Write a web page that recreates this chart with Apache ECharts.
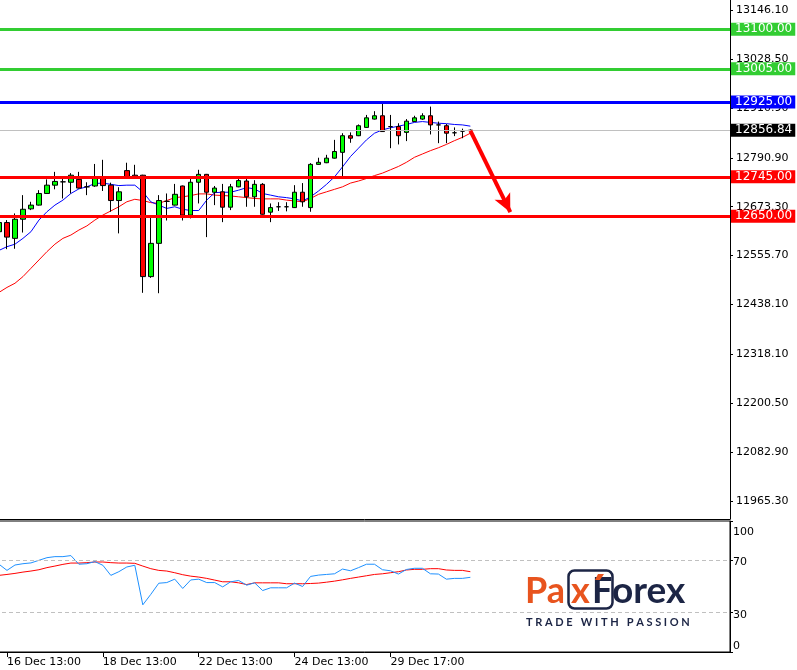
<!DOCTYPE html>
<html>
<head>
<meta charset="utf-8">
<script src="https://cdn.jsdelivr.net/npm/echarts@6/dist/echarts.min.js"></script>
<style>
html,body{margin:0;padding:0;background:#fff;}
#chart{width:797px;height:670px;}
</style>
</head>
<body>
<div id="chart"></div>
<script>
// ---- categories (H4 bars) ----
const categories = [
 '16 Dec 09:00','16 Dec 13:00','16 Dec 17:00','16 Dec 21:00','17 Dec 01:00','17 Dec 05:00','17 Dec 09:00','17 Dec 13:00','17 Dec 17:00','17 Dec 21:00',
 '18 Dec 01:00','18 Dec 05:00','18 Dec 09:00','18 Dec 13:00','18 Dec 17:00','18 Dec 21:00','21 Dec 01:00','21 Dec 05:00','21 Dec 09:00','21 Dec 13:00',
 '21 Dec 17:00','21 Dec 21:00','22 Dec 01:00','22 Dec 05:00','22 Dec 09:00','22 Dec 13:00','22 Dec 17:00','22 Dec 21:00','23 Dec 01:00','23 Dec 05:00',
 '23 Dec 09:00','23 Dec 13:00','23 Dec 17:00','23 Dec 21:00','24 Dec 01:00','24 Dec 05:00','24 Dec 09:00','24 Dec 13:00','24 Dec 17:00','28 Dec 01:00',
 '28 Dec 05:00','28 Dec 09:00','28 Dec 13:00','28 Dec 17:00','28 Dec 21:00','29 Dec 01:00','29 Dec 05:00','29 Dec 09:00','29 Dec 13:00','29 Dec 17:00',
 '29 Dec 21:00','30 Dec 01:00','30 Dec 05:00','30 Dec 09:00','30 Dec 13:00','30 Dec 17:00','30 Dec 21:00','31 Dec 01:00','31 Dec 05:00','31 Dec 09:00'
];
const shownTimeLabels = ['16 Dec 13:00','18 Dec 13:00','22 Dec 13:00','24 Dec 13:00','29 Dec 17:00'];
const emptySlots = 32;

// ---- OHLC: [open, close, low, high] ----
const ohlc = [
 [12613,12635,12600,12645],[12635,12600,12571,12641],[12597,12643,12572,12657],[12643,12667,12611,12701],[12668,12677,12665,12685],
 [12677,12705,12676,12713],[12705,12725,12704,12739],[12725,12734,12715,12757],[12733,12733,12693,12743],[12732,12749,12705,12754],
 [12739,12718,12717,12757],[12721,12721,12701,12732],[12723,12742,12721,12776],[12742,12724,12711,12786],[12725,12688,12661,12731],
 [12688,12709,12609,12720],[12760,12745,12744,12779],[12749,12745,12744,12774],[12749,12505,12466,12750],[12505,12585,12502,12649],
 [12585,12688,12465,12701],[12686,12686,12640,12705],[12677,12703,12676,12728],[12723,12653,12640,12724],[12653,12732,12645,12742],
 [12732,12751,12681,12762],[12751,12708,12600,12752],[12708,12718,12677,12723],[12709,12672,12636,12728],[12672,12721,12665,12728],
 [12721,12736,12720,12742],[12735,12697,12673,12742],[12697,12727,12673,12737],[12727,12655,12654,12730],[12660,12671,12636,12681],
 [12673,12673,12663,12684],[12673,12673,12662,12684],[12671,12708,12670,12725],[12708,12685,12673,12730],[12671,12775,12661,12778],
 [12775,12780,12774,12791],[12779,12790,12778,12798],[12790,12806,12789,12834],[12804,12844,12747,12850],[12844,12838,12827,12852],
 [12844,12868,12843,12871],[12864,12887,12863,12894],[12884,12892,12883,12903],[12892,12854,12853,12922],[12866,12866,12814,12894],
 [12866,12844,12823,12874],[12852,12879,12831,12884],[12878,12887,12877,12892],[12884,12892,12882,12898],[12892,12870,12847,12914],
 [12870,12870,12826,12878],[12868,12850,12826,12872],[12851,12851,12843,12864],[12855,12855,12838,12861],[12857,12857,12855,12859]
];

// ---- moving averages ----
const maFast = [12568,12577,12583,12597,12613,12641,12661,12677,12689,12705,12716,12721,12729,12730,12727,12724,12725,12725,12709,12685,
 12677,12669,12673,12667,12664,12664,12689,12707,12708,12708,12713,12719,12716,12705,12701,12697,12695,12692,12687,12697,
 12711,12727,12745,12769,12794,12814,12834,12850,12858,12863,12867,12871,12876,12878,12876,12874,12873,12871,12870,12867];
const maSlow = [12467,12479,12489,12505,12525,12545,12565,12583,12597,12605,12617,12627,12641,12653,12663,12673,12685,12691,12688,12683,
 12681,12688,12695,12697,12700,12704,12704,12701,12700,12699,12697,12695,12693,12692,12692,12692,12689,12687,12685,12693,
 12703,12709,12715,12721,12730,12735,12741,12748,12754,12762,12770,12780,12792,12800,12808,12815,12823,12832,12840,12850];

// ---- oscillator ----
const oscMain = [67,62.3,66.4,67.4,68,70,72,72.8,72.8,73.6,67,67.4,69,66.2,58.5,61.3,64.9,66.2,36,44,
 52.5,53,55.6,48.5,55,55.6,53,53,49.7,53.6,54.6,51,52.8,46.9,49,49,49,52.6,50,57.7,
 58.7,59.2,59.7,63.3,62,64.4,67,67,62.8,62,59.5,63,63.9,63.9,59.7,59.5,55.6,56.2,56.2,57];
const oscSignal = [58.5,59.2,60,61,61.8,62.8,64.4,65.6,66.9,67.9,67.9,68.2,68.7,68.7,68.2,67.9,67.9,67.7,65.6,63.6,
 62.3,61.8,60.5,59,57.9,57.2,56.2,54.9,53.6,53.6,52.8,51.5,52.8,52.8,52.8,52.8,52.1,52.1,52.1,52.3,
 52.6,53.3,54.1,55.1,56.2,57.2,58.2,59.2,59.7,60.5,61.3,62.6,63.1,63.1,63.6,63.6,62.6,62.3,62.3,61.3];
const oscLevels = [70, 30];
const oscTicks = [0, 30, 70, 100];

// ---- price axis ticks & levels ----
const priceTicks = [11965.30,12082.90,12200.50,12318.10,12438.10,12555.70,12673.30,12790.90,12910.90,13028.50,13146.10];
const priceMin = 11921.8, priceMax = 13170.5;
const levelValues = [13100, 13005, 12925, 12745, 12650];
const levelColors = ['#32CD32','#32CD32','#0000FF','#FF0000','#FF0000'];
const currentPrice = 12856.84;
const arrowFrom = [59, 12856];
const arrowTo = [64, 12660];

const FONT = 'DejaVu Sans';
const axisCats = categories.concat(Array.from({length: emptySlots}, (_, i) => 'next' + i));
const showLabel = (idx, val) => shownTimeLabels.indexOf(val) >= 0;

const boxLabel = (text, bg) => ({show: true, position: 'end', distance: 1, formatter: text, color: '#fff',
  backgroundColor: bg, fontFamily: FONT, fontSize: 12, padding: [1, 3, 0, 4], lineHeight: 12});
const levelLines = levelValues.map((v, i) => ({
  yAxis: v,
  lineStyle: {color: levelColors[i], width: 3, type: 'solid'},
  label: boxLabel(v.toFixed(2), levelColors[i])
}));
levelLines.push({
  yAxis: currentPrice,
  lineStyle: {color: '#C0C0C0', width: 1, type: 'solid'},
  label: boxLabel(currentPrice.toFixed(2), '#000')
});

const chart = echarts.init(document.getElementById('chart'), null, {renderer: 'canvas'});
const option = {
  animation: false,
  backgroundColor: '#fff',
  grid: [
    {left: -5, top: 0, width: 735, height: 519, show: false, outerBoundsMode: 'none', containLabel: false},
    {left: -5, top: 521, width: 735, height: 131, show: true, borderColor: '#000', borderWidth: 1,
     backgroundColor: 'transparent', outerBoundsMode: 'none', containLabel: false}
  ],
  xAxis: [
    {type: 'category', gridIndex: 0, data: axisCats, boundaryGap: true,
     axisLine: {show: true, lineStyle: {color: '#000', width: 1}}, axisTick: {show: false}, axisLabel: {show: false}, splitLine: {show: false}},
    {type: 'category', gridIndex: 1, data: axisCats, boundaryGap: true,
     axisLine: {show: true, lineStyle: {color: '#000', width: 1}},
     axisTick: {show: true, alignWithLabel: true, length: 5, interval: showLabel, lineStyle: {color: '#000'}},
     axisLabel: {show: true, interval: showLabel, align: 'left', margin: 5, color: '#000', fontFamily: FONT, fontSize: 11},
     splitLine: {show: false}}
  ],
  yAxis: [
    {type: 'value', gridIndex: 0, position: 'right', min: priceMin, max: priceMax, scale: true,
     axisLine: {show: true, lineStyle: {color: '#000', width: 1}},
     axisTick: {show: true, length: 3, customValues: priceTicks, lineStyle: {color: '#000'}},
     axisLabel: {show: true, customValues: priceTicks, formatter: v => v.toFixed(2), margin: 6, color: '#000', fontFamily: FONT, fontSize: 11},
     splitLine: {show: false}},
    {type: 'value', gridIndex: 1, position: 'right', min: 0, max: 100,
     axisLine: {show: true, lineStyle: {color: '#000', width: 1}},
     axisTick: {show: true, length: 3, customValues: oscTicks, lineStyle: {color: '#000'}},
     axisLabel: {show: true, customValues: oscTicks, margin: 3, color: '#000', fontFamily: FONT, fontSize: 11,
                 formatter: v => v === 100 ? '{top|100}' : (v === 0 ? '{bot|0}' : '{mid|' + v + '}'),
                 rich: {
                   top: {fontFamily: FONT, fontSize: 11, color: '#000', padding: [22, 0, 0, 0]},
                   bot: {fontFamily: FONT, fontSize: 11, color: '#000', padding: [0, 0, 12, 0]},
                   mid: {fontFamily: FONT, fontSize: 11, color: '#000', padding: [4, 0, 0, 0]}
                 }},
     splitLine: {show: false}}
  ],
  series: [
    {type: 'line', xAxisIndex: 0, yAxisIndex: 0, data: maSlow, showSymbol: false, symbol: 'none',
     lineStyle: {color: '#FF0000', width: 1}, z: 2},
    {type: 'line', xAxisIndex: 0, yAxisIndex: 0, data: maFast, showSymbol: false, symbol: 'none',
     lineStyle: {color: '#0000FF', width: 1}, z: 2},
    {type: 'candlestick', xAxisIndex: 0, yAxisIndex: 0, data: ohlc, barWidth: 5, z: 3,
     itemStyle: {color: '#00FF00', color0: '#FF0000', borderColor: '#000', borderColor0: '#000', borderColorDoji: '#000', borderWidth: 1},
     markLine: {silent: true, symbol: ['none', 'none'], z: 5, data: levelLines}},
    {type: 'line', xAxisIndex: 0, yAxisIndex: 0, data: [], z: 6,
     markLine: {silent: true, symbol: ['none', 'arrow'], symbolSize: [13, 18], z: 6,
       lineStyle: {color: '#FF0000', width: 4, type: 'solid'}, label: {show: false},
       data: [[{coord: arrowFrom}, {coord: arrowTo}]]}},
    {type: 'line', xAxisIndex: 1, yAxisIndex: 1, data: oscSignal, showSymbol: false, symbol: 'none',
     lineStyle: {color: '#FF0000', width: 1},
     markLine: {silent: true, symbol: ['none', 'none'], label: {show: false},
       lineStyle: {color: '#C0C0C0', width: 1, type: [4, 3]},
       data: oscLevels.map(v => ({yAxis: v}))}},
    {type: 'line', xAxisIndex: 1, yAxisIndex: 1, data: oscMain, showSymbol: false, symbol: 'none',
     lineStyle: {color: '#1E90FF', width: 1}}
  ],
  graphic: {elements: [
    {type: 'text', x: 525, y: 573, style: {text: 'Pa', fontFamily: 'Lato', fontWeight: 'bold', fontSize: 36, fill: '#E8541E'}},
    {type: 'rect', shape: {x: 568.5, y: 570.5, width: 44, height: 38, r: 6}, style: {fill: 'none', stroke: '#1C2545', lineWidth: 2.5}},
    {type: 'text', x: 571, y: 573, style: {text: 'x', fontFamily: 'Lato', fontWeight: 'bold', fontSize: 36, fill: '#E8541E'}},
    {type: 'text', x: 592, y: 573, style: {text: 'F', fontFamily: 'Lato', fontWeight: 'bold', fontSize: 36, fill: '#1C2545'}},
    {type: 'polygon', shape: {points: [[598, 574], [604, 574], [600, 580], [595, 580]]}, style: {fill: '#E8541E'}},
    {type: 'text', x: 612, y: 573, style: {text: 'orex', fontFamily: 'Lato', fontWeight: 'bold', fontSize: 37, fill: '#1C2545'}},
    {type: 'text', x: 526, y: 617, style: {text: 'T R A D E   W I T H   P A S S I O N', fontFamily: 'Lato', fontWeight: 'bold', fontSize: 11, fill: '#1C2545'}}
  ]}
};
chart.setOption(option);
</script>
</body>
</html>
